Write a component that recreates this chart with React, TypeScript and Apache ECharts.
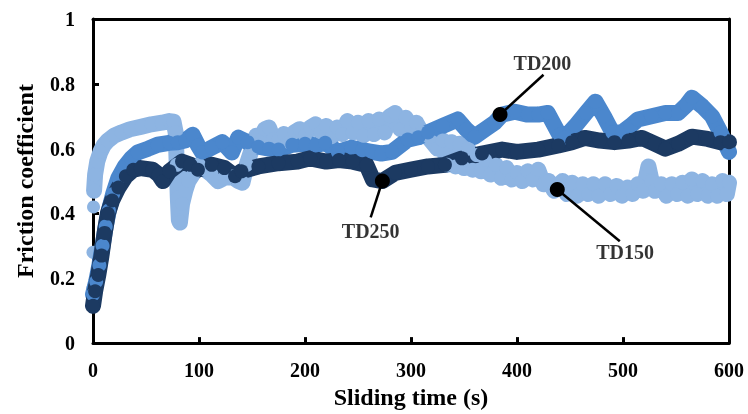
import React, { useEffect, useRef } from "react";
import * as echarts from "echarts";

const xTickValues = [0, 100, 200, 300, 400, 500, 600];
const yTickLabels = ["0", "0.2", "0.4", "0.6", "0.8", "1"];

const td250: [number, number][] = [
  [0, 0.115], [2, 0.16], [5, 0.21], [8, 0.27], [11, 0.34], [14, 0.4], [18, 0.44], [24, 0.48], [31, 0.515], [38, 0.535],
  [45, 0.54], [56, 0.535], [62, 0.52], [66, 0.5], [72, 0.53], [84, 0.56], [92, 0.55], [99, 0.535], [112, 0.55], [124, 0.54],
  [134, 0.515], [140, 0.53], [156, 0.545], [175, 0.555], [193, 0.56], [205, 0.57], [220, 0.56], [232, 0.565], [245, 0.56],
  [258, 0.55], [264, 0.505], [273, 0.5], [285, 0.525], [300, 0.535], [316, 0.545], [332, 0.55], [348, 0.57], [367, 0.585],
  [386, 0.597], [400, 0.59], [420, 0.597], [439, 0.61], [452, 0.62], [464, 0.633], [478, 0.625], [492, 0.62], [505, 0.625],
  [518, 0.633], [530, 0.615], [540, 0.6], [552, 0.615], [565, 0.637], [580, 0.63], [592, 0.62], [600, 0.62],
];

const td200: [number, number][] = [
  [0, 0.15], [3, 0.19], [6, 0.24], [9, 0.3], [12, 0.36], [15, 0.41], [19, 0.46], [24, 0.51], [30, 0.545], [36, 0.57],
  [42, 0.588], [52, 0.6], [61, 0.612], [72, 0.618], [80, 0.62], [87, 0.625], [94, 0.643], [99, 0.61], [103, 0.588],
  [112, 0.603], [122, 0.62], [131, 0.588], [137, 0.634], [146, 0.62], [156, 0.606], [166, 0.6], [175, 0.597], [188, 0.612],
  [200, 0.615], [210, 0.61], [219, 0.618], [231, 0.59], [244, 0.603], [254, 0.595], [263, 0.59], [272, 0.585], [282, 0.59],
  [297, 0.628], [307, 0.635], [316, 0.65], [330, 0.67], [344, 0.69], [352, 0.66], [360, 0.637], [370, 0.66], [379, 0.68],
  [386, 0.705], [398, 0.714], [410, 0.705], [420, 0.705], [429, 0.71], [440, 0.643], [445, 0.634], [455, 0.67], [465, 0.71],
  [474, 0.745], [482, 0.7], [490, 0.65], [499, 0.65], [507, 0.67], [514, 0.69], [527, 0.7], [540, 0.71], [552, 0.71],
  [560, 0.735], [565, 0.757], [575, 0.73], [584, 0.7], [592, 0.65], [600, 0.59],
];

const td150Start: [number, number][] = [[0, 0.17], [0, 0.28], [0.5, 0.42]];

const td150: [number, number][] = [
  [1, 0.47], [2, 0.52], [4, 0.56], [7, 0.59], [10, 0.61], [14, 0.625], [20, 0.64], [27, 0.65], [35, 0.66], [46, 0.668],
  [55, 0.675], [65, 0.68], [72, 0.685], [76, 0.683], [78, 0.65], [79, 0.55], [80, 0.45], [81, 0.38], [82, 0.372], [84, 0.43],
  [87, 0.47], [90, 0.5], [95, 0.525], [100, 0.55], [106, 0.535], [112, 0.52], [118, 0.5], [124, 0.51], [131, 0.514],
  [137, 0.5], [141, 0.495], [145, 0.55], [150, 0.6], [154, 0.64], [158, 0.62], [162, 0.66], [166, 0.665], [170, 0.63],
  [175, 0.625], [180, 0.645], [185, 0.62], [190, 0.65], [195, 0.66], [200, 0.64], [205, 0.665], [210, 0.675], [215, 0.65],
  [220, 0.67], [225, 0.635], [230, 0.665], [235, 0.645], [240, 0.685], [245, 0.65], [250, 0.68], [255, 0.64], [260, 0.685],
  [265, 0.645], [270, 0.69], [275, 0.65], [280, 0.7], [285, 0.71], [290, 0.66], [295, 0.695], [300, 0.665], [305, 0.68],
  [310, 0.65], [315, 0.64], [320, 0.62], [325, 0.6], [330, 0.625], [334, 0.55], [338, 0.62], [342, 0.545], [346, 0.615],
  [350, 0.54], [354, 0.6], [358, 0.535], [362, 0.58], [366, 0.53], [370, 0.565], [375, 0.52], [380, 0.55], [385, 0.51],
  [390, 0.54], [395, 0.505], [400, 0.525], [405, 0.5], [410, 0.53], [415, 0.505], [420, 0.535], [425, 0.49], [430, 0.5],
  [435, 0.47], [440, 0.49], [443, 0.5], [447, 0.46], [452, 0.495], [457, 0.455], [462, 0.49], [467, 0.46], [472, 0.49],
  [477, 0.455], [483, 0.49], [488, 0.46], [494, 0.485], [499, 0.455], [504, 0.48], [509, 0.46], [514, 0.49], [519, 0.47],
  [524, 0.545], [527, 0.5], [530, 0.47], [536, 0.49], [541, 0.455], [546, 0.49], [551, 0.46], [556, 0.495], [561, 0.455],
  [565, 0.505], [570, 0.46], [575, 0.5], [580, 0.455], [584, 0.49], [589, 0.455], [594, 0.5], [598, 0.46], [600, 0.495],
];

const annotationNames = ["TD250", "TD200", "TD150"];
const annotationPoints: [number, number][] = [[273, 0.5], [384, 0.705], [438, 0.474]];
const annotationEnds: [number, number][] = [[262, 0.388], [425, 0.828], [497, 0.314]];
const annotationLabelCenters: [number, number][] = [[262, 0.345], [424, 0.865], [502, 0.28]];

const FONT = "'Liberation Serif', 'Times New Roman', serif";
const LIGHT = "#8DB4E2";
const MEDIUM = "#4B87CD";
const DARK = "#1C3A62";

function thickLine(name: string, data: [number, number][], color: string) {
  return {
    name,
    type: "line",
    data,
    symbol: "circle",
    symbolSize: 14,
    showSymbol: true,
    itemStyle: { color, borderWidth: 0 },
    lineStyle: { color, width: 16, cap: "round", join: "round" },
    emphasis: { disabled: true },
    silent: true,
  };
}

export default function App() {
  const ref = useRef<HTMLDivElement>(null);
  useEffect(() => {
    if (!ref.current) return;
    const chart = echarts.init(ref.current, undefined, { renderer: "svg" });
    const annLines = annotationNames.map((n, i) => ({
      name: n + " pointer",
      type: "line",
      data: [annotationPoints[i], annotationEnds[i]],
      symbol: "none",
      lineStyle: { color: "#000", width: 2.5 },
      z: 10,
      silent: true,
    }));
    const axisText = { fontFamily: FONT, fontWeight: "bold", color: "#000" };
    chart.setOption({
      animation: false,
      grid: { left: 93, right: 19, top: 19, bottom: 70 },
      xAxis: [
        {
          type: "value",
          min: xTickValues[0],
          max: xTickValues[xTickValues.length - 1],
          interval: 100,
          name: "Sliding time (s)",
          nameLocation: "middle",
          nameGap: 40,
          nameTextStyle: { ...axisText, fontSize: 24 },
          axisLine: { lineStyle: { color: "#000", width: 3 } },
          axisTick: { inside: true, length: 6, lineStyle: { color: "#000", width: 3 } },
          splitLine: { show: false },
          axisLabel: { ...axisText, margin: 17, fontSize: 20 },
        },
        {
          type: "value",
          position: "top",
          min: 0,
          max: 600,
          axisLine: { show: true, onZero: false, lineStyle: { color: "#000", width: 3 } },
          axisTick: { show: false },
          axisLabel: { show: false },
          splitLine: { show: false },
        },
      ],
      yAxis: [
        {
          type: "value",
          min: 0,
          max: 1,
          interval: 0.2,
          name: "Friction coefficient",
          nameLocation: "middle",
          nameGap: 56,
          nameTextStyle: { ...axisText, fontSize: 24 },
          axisLine: { show: true, lineStyle: { color: "#000", width: 3 } },
          axisTick: { show: true, inside: true, length: 6, lineStyle: { color: "#000", width: 3 } },
          splitLine: { show: false },
          axisLabel: {
            ...axisText,
            margin: 18,
            fontSize: 20,
            formatter: (v: number) => yTickLabels[Math.round(v / 0.2)] ?? String(v),
          },
        },
        {
          type: "value",
          position: "right",
          min: 0,
          max: 1,
          axisLine: { show: true, onZero: false, lineStyle: { color: "#000", width: 3 } },
          axisTick: { show: false },
          axisLabel: { show: false },
          splitLine: { show: false },
        },
      ],
      series: [
        {
          name: "TD150 start",
          type: "scatter",
          data: td150Start,
          symbolSize: 13,
          itemStyle: { color: LIGHT, opacity: 1 },
          silent: true,
        },
        thickLine("TD150", td150, LIGHT),
        thickLine("TD200", td200, MEDIUM),
        thickLine("TD250", td250, DARK),
        ...annLines,
        {
          name: "pointer dots",
          type: "scatter",
          data: annotationPoints,
          symbolSize: 15,
          itemStyle: { color: "#000", opacity: 1 },
          z: 11,
          silent: true,
        },
        {
          name: "labels",
          type: "scatter",
          data: annotationLabelCenters.map((c, i) => ({ value: c, name: annotationNames[i] })),
          symbolSize: 1,
          itemStyle: { color: "rgba(0,0,0,0)" },
          label: {
            show: true,
            position: "inside",
            formatter: (p: any) => p.name,
            ...axisText,
            fontSize: 20,
          },
          z: 12,
          silent: true,
        },
      ],
    });
    return () => chart.dispose();
  }, []);
  return <div ref={ref} style={{ position: "fixed", left: 0, top: 0, width: 748, height: 414 }} />;
}
